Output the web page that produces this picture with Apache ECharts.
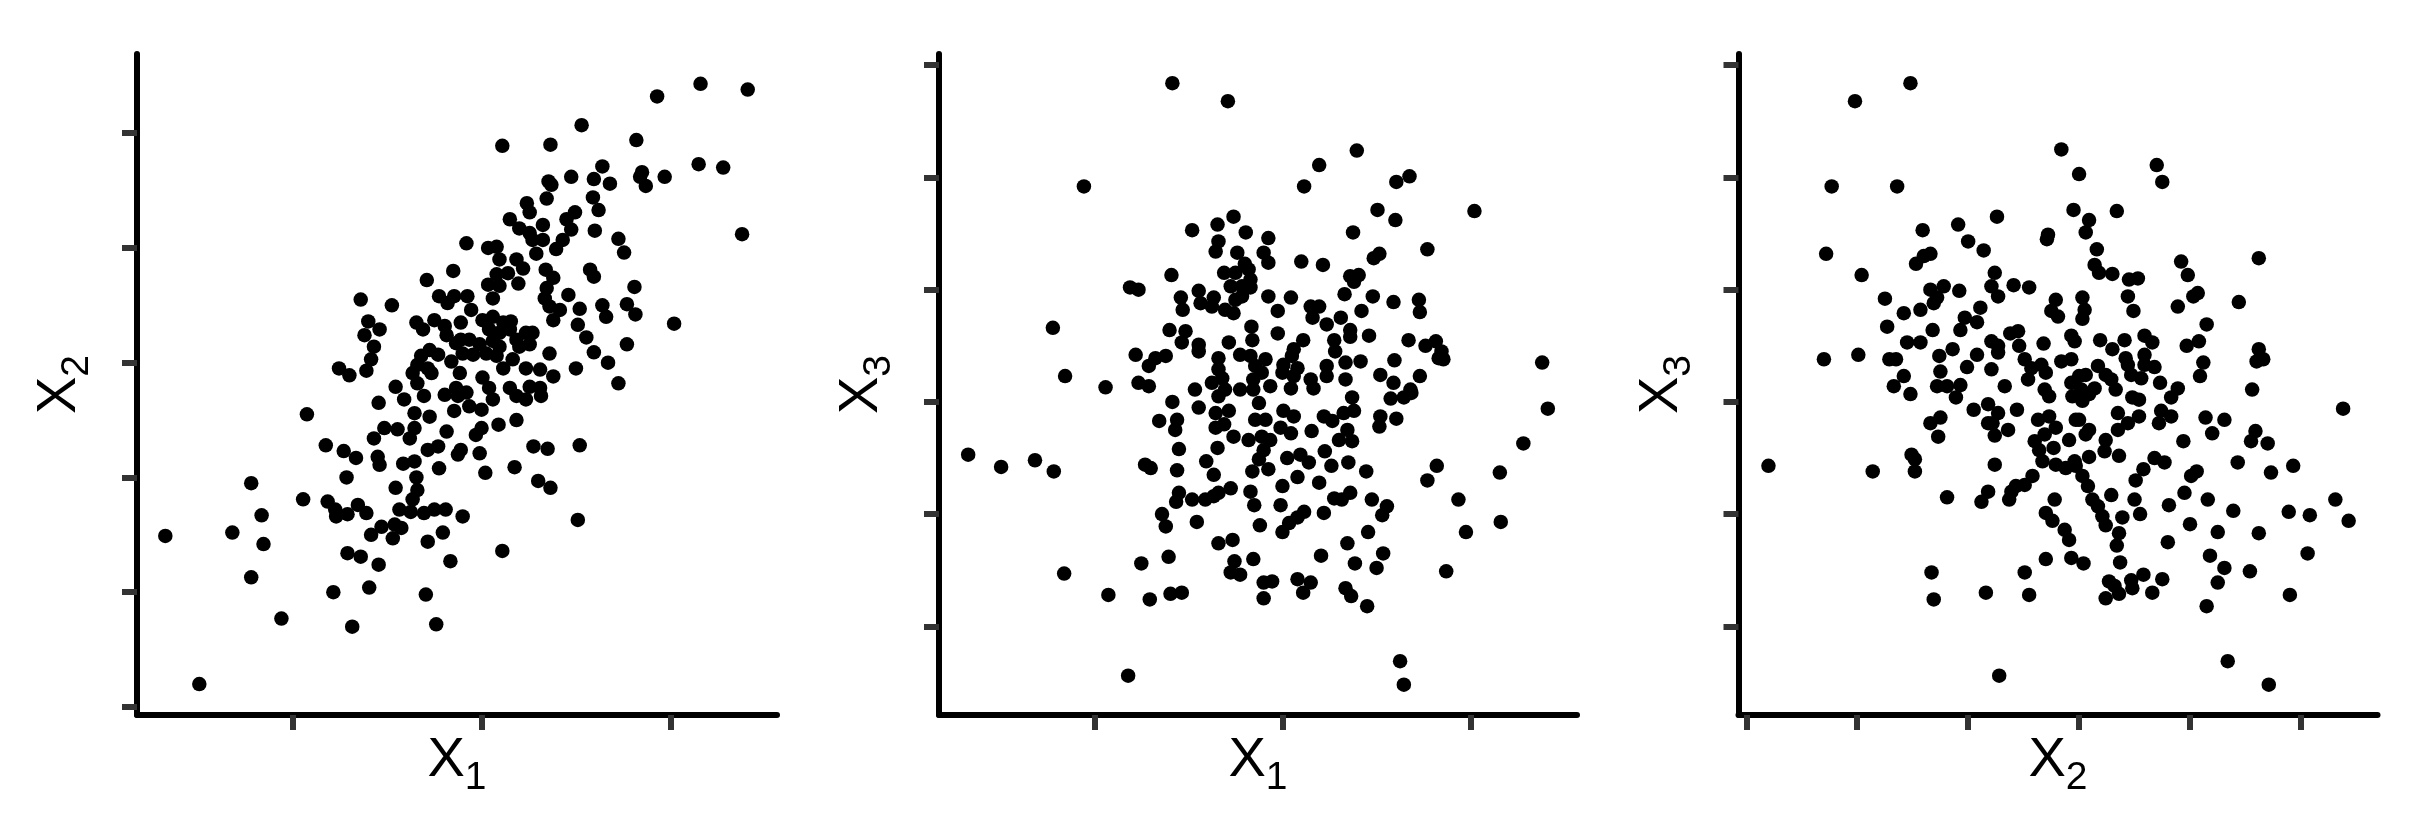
<!DOCTYPE html>
<html>
<head>
<meta charset="utf-8">
<script src="https://cdn.jsdelivr.net/npm/echarts@6/dist/echarts.min.js"></script>
<style>
html,body{margin:0;padding:0;background:#fff;}
#chart{width:2424px;height:830px;}
</style>
</head>
<body>
<div id="chart"></div>
<script>
// Tick positions (no tick labels shown in the reference)
const x1Ticks = [-2, 0, 2];
const x2Ticks = [-3, -2, -1, 0, 1, 2];
const x3Ticks = [-2, -1, 0, 1, 2, 3];
// Axis extents
const x1Range = [-3.65, 3.13];
const x2Range = [-3.07, 2.69];
const x3Range = [-2.79, 3.10];

// Panel 1: X1 (x) vs X2 (y)
const panel1 = [
[-0.16,1.04],[-0.30,0.80],[-0.58,0.72],[-1.28,0.55],[-0.95,0.50],[-0.45,0.58],[-0.29,0.58],[-0.36,0.52],[-0.15,0.58],[-1.20,0.36],[-1.08,0.29],[-1.24,0.24],[-1.14,0.14],[-1.17,0.03],[-1.22,-0.07],[-1.51,-0.05],[-1.40,-0.11],[-0.69,0.35],[-0.62,0.29],[-0.50,0.37],[-0.39,0.32],[-0.37,0.24],[-0.22,0.35],[-0.55,0.11],[-0.64,0.06],[-0.46,0.07],[-0.68,-0.02],[-0.57,-0.05],[-0.73,-0.09],[-0.53,-0.09],[-0.32,0.01],[-0.23,-0.09],[-0.22,0.20],[-0.20,0.08],[-0.91,-0.21],[-0.68,-0.18],
[2.32,2.43],[2.82,2.38],[1.86,2.32],[1.06,2.07],[0.22,1.89],[0.73,1.90],[1.64,1.94],[2.30,1.73],[2.56,1.70],[2.76,1.12],[2.04,0.34],[1.28,1.71],[0.95,1.62],[1.19,1.60],[1.36,1.56],[0.71,1.58],[0.74,1.55],[1.70,1.66],[1.68,1.62],[1.74,1.54],[1.94,1.62],[0.69,1.43],[0.48,1.39],[0.51,1.31],[1.18,1.44],[1.24,1.33],[0.30,1.25],[0.40,1.17],[0.51,1.13],[0.65,1.20],[0.99,1.31],[0.90,1.25],[0.95,1.16],[0.86,1.07],[0.65,1.07],[0.54,1.07],[0.79,0.99],[0.58,0.95],[1.20,1.15],[1.45,1.08],[1.51,0.96],[0.07,1.00],[0.16,1.01],[0.19,0.90],[0.37,0.90],[0.44,0.82],[0.16,0.77],[0.28,0.78],[0.39,0.69],[0.07,0.68],[0.19,0.67],[0.12,0.56],[-0.11,0.46],[0.68,0.81],[0.76,0.74],[0.69,0.65],[0.67,0.56],[0.72,0.49],[0.76,0.37],[0.92,0.59],[0.83,0.46],[1.04,0.47],[1.02,0.33],[1.11,0.22],[1.15,0.81],[1.19,0.75],[1.62,0.66],[1.28,0.50],[1.32,0.40],[1.54,0.51],[1.63,0.42],[1.54,0.16],[1.19,0.09],[1.34,0.00],[1.00,-0.05],[1.45,-0.18],
[0.01,0.37],[0.12,0.40],[0.23,0.35],[0.31,0.36],[0.08,0.29],[0.19,0.26],[0.30,0.29],[-0.27,0.17],[-0.13,0.20],[-0.02,0.16],[0.12,0.19],[0.19,0.14],[-0.09,0.07],[0.05,0.08],[0.16,0.06],[0.37,0.20],[0.47,0.26],[0.54,0.26],[0.40,0.14],[0.51,0.16],[0.01,-0.13],[0.23,-0.05],[0.33,0.03],[0.47,-0.05],[0.62,-0.06],[0.72,0.08],[0.76,-0.12],[0.08,-0.22],[0.30,-0.22],[0.51,-0.21],[0.62,-0.22],[-0.27,-0.22],
[-1.85,-0.45],[-1.65,-0.72],[-1.46,-0.77],[-1.33,-0.83],[-1.43,-1.00],[-2.44,-1.05],[-1.89,-1.19],[-2.33,-1.33],[-2.64,-1.48],[-2.31,-1.58],[-3.35,-1.51],[-2.44,-1.87],[-2.12,-2.23],[-1.57,-2.00],[-1.19,-1.96],[-1.37,-2.30],[-0.59,-2.02],[-0.48,-2.28],[-2.99,-2.80],[-1.09,-1.76],[-0.33,-1.73],[-1.42,-1.66],[-1.28,-1.69],[-0.57,-1.56],[-0.41,-1.48],[-1.17,-1.50],[-1.06,-1.43],[-0.92,-1.41],[-0.85,-1.44],[-0.94,-1.53],[-1.63,-1.21],[-1.55,-1.28],[-1.54,-1.34],[-1.42,-1.32],[-1.31,-1.24],[-1.22,-1.31],[-0.87,-1.28],[-0.75,-1.30],[-0.61,-1.31],[-0.50,-1.28],[-0.38,-1.28],[-0.20,-1.34],[-0.91,-1.09],[-0.69,-1.00],[-0.68,-1.11],[-0.73,-1.19],[-0.83,-0.88],[-0.71,-0.86],[-0.45,-0.92],[-1.08,-0.89],[-1.10,-0.82],[-1.14,-0.66],[-1.03,-0.57],[-0.89,-0.58],[-0.76,-0.66],[-0.71,-0.57],[-0.57,-0.76],[-0.46,-0.73],[-0.37,-0.60],[-0.25,-0.80],[-0.22,-0.76],[-1.09,-0.35],[-0.82,-0.32],[-0.71,-0.44],[-0.55,-0.47],[-0.61,-0.29],[-0.39,-0.28],[-0.25,-0.29],[-0.29,-0.42],
[0.12,-0.32],[0.37,-0.29],[0.63,-0.29],[0.47,-0.32],[-0.16,-0.26],[-0.13,-0.38],[-0.00,-0.41],[-0.00,-0.57],[-0.06,-0.63],[0.18,-0.54],[0.37,-0.50],[-0.02,-0.79],[0.55,-0.73],[0.70,-0.75],[1.04,-0.72],[0.04,-0.96],[0.35,-0.91],[0.60,-1.03],[0.73,-1.09],[1.02,-1.37],[0.22,-1.64]
];

// Panel 2: X1 (x) vs X3 (y)
const panel2 = [
[-1.17,2.84],[-0.58,2.68],[-2.11,1.92],[-0.52,1.65],[-0.69,1.58],[-0.96,1.53],[-0.39,1.51],[-0.15,1.46],[-0.68,1.43],[-0.71,1.34],[-0.48,1.33],[-0.40,1.23],[-0.20,1.33],[-0.15,1.24],[-1.18,1.13],[-0.62,1.15],[-0.50,1.15],[-0.36,1.18],[-0.34,1.09],[-0.55,1.03],[-0.43,1.03],[-0.34,1.02],[-0.15,0.94],[-1.62,1.02],[-1.53,1.00],[-0.89,0.99],[-0.87,0.88],[-0.73,0.93],[-0.75,0.85],[-0.61,0.82],[-0.52,0.79],[-1.08,0.93],[-1.06,0.82],[-0.50,0.91],[-0.43,0.94],[-2.44,0.66],[-1.20,0.64],[-1.03,0.63],[-1.07,0.53],[-0.89,0.51],[-0.89,0.45],[-0.57,0.53],[-0.33,0.67],[-0.32,0.55],[-1.56,0.42],[-1.42,0.32],[-1.35,0.39],[-1.24,0.41],[-0.68,0.39],[-0.68,0.29],[-0.64,0.21],[-0.45,0.42],[-0.34,0.41],[-0.29,0.32],[-0.22,0.26],[-0.31,0.20],[-0.18,0.38],[-2.31,0.23],[-1.88,0.13],[-1.53,0.17],[-1.42,0.14],[-0.75,0.17],[-0.93,0.11],[-0.61,0.11],[-0.45,0.11],
[0.79,2.24],[0.39,2.11],[0.23,1.92],[1.35,2.01],[1.21,1.96],[1.01,1.71],[1.20,1.62],[2.04,1.70],[0.75,1.51],[1.54,1.36],[0.97,1.28],[1.03,1.32],[0.20,1.25],[0.43,1.22],[0.72,1.12],[0.81,1.13],[0.76,1.07],[0.66,0.96],[0.09,0.93],[0.96,0.94],[1.18,0.89],[1.45,0.91],[1.46,0.80],[-0.05,0.81],[0.30,0.85],[0.39,0.85],[0.32,0.75],[0.47,0.69],[0.62,0.75],[0.84,0.81],[0.72,0.64],[0.72,0.58],[0.92,0.59],[-0.05,0.61],[0.22,0.55],[0.12,0.47],[0.10,0.41],[0.55,0.55],[0.56,0.45],[1.34,0.55],[1.52,0.50],[1.63,0.54],[1.69,0.45],[1.66,0.39],[1.71,0.38],[2.76,0.35],[1.19,0.37],[0.01,0.33],[0.16,0.30],[-0.00,0.26],[0.12,0.23],[0.47,0.32],[0.47,0.23],[0.67,0.35],[0.83,0.36],[0.67,0.20],[0.30,0.20],[1.04,0.24],[1.18,0.17],[1.46,0.23],[1.36,0.11],[0.09,0.12],[0.33,0.12],[-0.13,0.14],
[-3.34,-0.47],[-2.99,-0.58],[-2.63,-0.52],[-2.43,-0.62],[-1.46,-0.56],[-1.40,-0.59],[-1.17,-0.00],[-0.89,-0.05],[-1.31,-0.17],[-1.12,-0.16],[-1.14,-0.25],[-0.71,-0.10],[-0.57,-0.08],[-0.71,-0.23],[-0.62,-0.20],[-0.68,0.05],[-0.31,0.11],[-0.25,-0.01],[-0.18,-0.16],[-0.29,-0.16],[-0.52,-0.31],[-0.36,-0.34],[-0.22,-0.31],[-0.20,-0.43],[-0.25,-0.51],[-1.10,-0.42],[-0.69,-0.41],[-0.81,-0.53],[-1.12,-0.61],[-0.73,-0.65],[-0.32,-0.62],[-0.15,-0.60],[-1.10,-0.81],[-1.13,-0.89],[-0.96,-0.87],[-0.82,-0.87],[-0.73,-0.84],[-0.68,-0.81],[-0.55,-0.77],[-0.34,-0.80],[-0.30,-0.92],[-1.28,-1.00],[-1.24,-1.11],[-0.91,-1.07],[-0.24,-1.10],[-0.68,-1.26],[-0.53,-1.23],[-1.50,-1.44],[-1.21,-1.38],[-0.51,-1.42],[-0.55,-1.52],[-0.45,-1.54],[-0.31,-1.40],[-0.20,-1.61],[-0.20,-1.75],[-2.32,-1.53],[-1.85,-1.72],[-1.41,-1.76],[-1.19,-1.71],[-1.07,-1.70],[-1.64,-2.44],
[2.82,-0.06],[2.56,-0.37],[2.31,-0.63],[1.64,-0.57],[1.54,-0.70],[1.87,-0.87],[1.95,-1.16],[2.32,-1.07],[1.74,-1.51],[1.25,-2.31],[1.29,-2.52],[1.15,0.03],[1.29,0.04],[1.37,0.08],[1.04,-0.13],[1.03,-0.22],[1.21,-0.15],[0.74,0.04],[0.76,-0.08],[0.65,-0.10],[0.44,-0.13],[0.53,-0.17],[0.69,-0.25],[0.60,-0.34],[0.74,-0.35],[0.31,-0.26],[0.45,-0.44],[0.52,-0.57],[0.70,-0.54],[0.89,-0.62],[0.01,-0.08],[0.12,-0.13],[0.09,-0.28],[-0.02,-0.23],[-0.13,-0.34],[0.05,-0.50],[0.19,-0.47],[0.28,-0.54],[0.16,-0.67],[0.39,-0.72],[-0.00,-0.75],[0.55,-0.86],[0.63,-0.87],[0.72,-0.81],[0.95,-0.87],[1.11,-0.93],[1.06,-1.01],[-0.02,-0.92],[0.23,-0.98],[0.16,-1.03],[0.07,-1.08],[-0.00,-1.16],[0.44,-0.99],[0.69,-1.26],[0.91,-1.16],[1.07,-1.35],[0.77,-1.44],[1.00,-1.48],[0.41,-1.37],[-0.11,-1.60],[0.16,-1.58],[0.30,-1.61],[0.22,-1.70],[0.67,-1.66],[0.73,-1.73],[0.90,-1.82]
];

// Panel 3: X2 (x) vs X3 (y)
const panel3 = [
[-1.52,2.84],[-2.02,2.68],[-0.16,2.25],[-2.23,1.92],[-1.64,1.92],[-0.74,1.65],[-1.09,1.58],[-1.41,1.53],[-0.28,1.49],[-0.29,1.45],[-1.00,1.43],[-0.86,1.35],[-2.28,1.32],[-1.34,1.32],[-1.40,1.30],[-1.47,1.23],[-1.96,1.13],[-0.76,1.15],[-0.79,1.03],[-0.73,0.94],[-0.59,1.04],[-0.45,1.02],[-1.34,1.00],[-1.22,1.03],[-1.31,0.88],[-1.28,0.93],[-1.08,0.99],[-1.75,0.92],[-1.43,0.82],[-1.58,0.79],[-0.89,0.84],[-0.92,0.71],[-1.03,0.75],[-1.07,0.64],[-0.21,0.91],[-0.25,0.81],[-0.19,0.76],[-1.73,0.67],[-1.32,0.64],[-0.62,0.61],[-0.55,0.63],[-0.54,0.50],[-1.55,0.53],[-1.43,0.53],[-1.14,0.47],[-0.79,0.54],[-0.73,0.50],[-0.73,0.44],[-0.79,0.29],[-0.32,0.52],[-0.07,0.59],[-2.30,0.38],[-1.99,0.42],[-1.71,0.38],[-1.65,0.38],[-1.26,0.41],[-1.25,0.27],[-1.01,0.31],[-0.92,0.42],[-0.49,0.38],[-0.43,0.30],[-0.34,0.33],[-0.30,0.26],[-0.46,0.20],[-0.16,0.36],[-0.07,0.38],[-1.58,0.23],[-1.67,0.14],[-1.28,0.14],[-1.19,0.14],[-1.07,0.15],[-0.67,0.14],[-0.31,0.11],[-0.07,0.17],
[0.00,2.03],[0.70,2.11],[0.75,1.96],[-0.05,1.71],[0.34,1.70],[0.09,1.62],[0.06,1.51],[0.16,1.36],[0.14,1.22],[0.18,1.15],[0.30,1.14],[0.45,1.09],[0.53,1.10],[0.92,1.25],[0.98,1.13],[1.62,1.28],[1.07,0.97],[1.03,0.94],[0.44,0.94],[0.49,0.81],[0.03,0.93],[0.05,0.82],[0.03,0.74],[0.89,0.85],[1.44,0.89],[1.15,0.69],[-0.04,0.54],[0.19,0.55],[0.30,0.47],[0.41,0.55],[0.59,0.59],[0.66,0.53],[0.97,0.50],[1.08,0.54],[1.62,0.47],[1.66,0.38],[1.60,0.36],[0.42,0.39],[0.59,0.42],[0.44,0.33],[0.68,0.31],[0.59,0.33],[1.12,0.35],[1.09,0.23],[0.17,0.32],[0.06,0.24],[0.00,0.23],[0.24,0.24],[0.29,0.20],[0.47,0.24],[0.56,0.21],[0.73,0.17],[0.89,0.12],[1.56,0.11],[0.33,0.11],[0.14,0.12],
[-2.80,-0.57],[-1.86,-0.62],[-1.51,-0.47],[-1.48,-0.51],[-1.48,-0.62],[-1.19,-0.85],[-0.76,-0.56],[-0.82,-0.80],[-0.88,-0.89],[-0.61,-0.80],[-0.57,-0.75],[-0.49,-0.74],[-0.42,-0.66],[-0.63,-0.87],[-0.22,-0.87],[-0.30,-0.99],[-0.24,-1.06],[-0.13,-1.14],[-0.09,-1.23],[-0.07,-1.39],[-0.30,-1.40],[-0.49,-1.52],[-0.45,-1.72],[-0.84,-1.70],[-1.33,-1.52],[-1.31,-1.76],[-0.72,-2.44],[-1.52,0.07],[-1.11,0.04],[-0.95,-0.07],[-0.82,-0.02],[-0.73,-0.10],[-0.78,-0.19],[-0.82,-0.19],[-0.64,-0.25],[-0.76,-0.30],[-0.56,-0.07],[-1.34,-0.19],[-1.25,-0.14],[-1.27,-0.31],[-0.27,0.05],[-0.37,-0.16],[-0.27,-0.13],[-0.21,-0.23],[-0.40,-0.35],[-0.31,-0.29],[-0.36,-0.43],[-0.23,-0.41],[-0.06,0.05],[-0.03,-0.16],[-0.09,-0.34],[-0.33,-0.53],[-0.21,-0.56],[-0.12,-0.59],[-0.04,-0.53],
[2.38,-0.06],[1.14,-0.14],[1.31,-0.16],[1.20,-0.28],[1.59,-0.26],[1.55,-0.35],[1.70,-0.37],[0.94,-0.35],[1.43,-0.54],[1.73,-0.63],[1.93,-0.57],[2.31,-0.87],[2.43,-1.06],[2.08,-1.01],[1.89,-0.98],[2.06,-1.35],[1.62,-1.17],[1.90,-1.72],[1.54,-1.51],[1.39,-0.97],[1.25,-1.16],[1.18,-1.37],[1.31,-1.48],[1.25,-1.61],[1.15,-1.82],[1.34,-2.31],[1.71,-2.52],[1.16,-0.87],[1.00,-1.09],[0.95,-0.81],[1.01,-0.66],[1.06,-0.62],[0.81,-0.92],[0.80,-1.25],[0.68,-0.50],[0.77,-0.54],[0.58,-0.60],[0.51,-0.70],[0.83,0.04],[0.74,-0.08],[0.72,-0.19],[0.83,-0.13],[0.54,-0.13],[0.44,-0.19],[0.35,-0.10],[0.48,0.04],[0.54,0.02],[0.35,-0.25],[0.24,-0.34],[0.23,-0.44],[0.36,-0.48],[0.50,-0.87],[0.55,-1.00],[0.39,-1.03],[0.29,-0.83],[0.36,-1.17],[0.34,-1.28],[0.37,-1.43],[0.27,-1.60],[0.32,-1.64],[0.24,-1.75],[0.36,-1.71],[0.47,-1.59],[0.58,-1.54],[0.48,-1.66],[0.66,-1.70],[0.75,-1.58],[0.12,-0.87],[0.17,-0.93],[0.21,-1.02],[0.24,-1.10],[0.03,-0.66],[0.08,-0.75],[-0.03,-0.57],[0.09,-0.49],[0.04,-1.44],[0.00,-0.16],[0.09,-0.25],[0.06,-0.29],[0.02,0.11],[0.09,0.07],[0.03,0.01]
];

// Axis titles: variable letter + subscript index
const xTitles = ['1', '1', '2'];
const yTitles = ['2', '3', '3'];

const FONT = 'Liberation Sans, Arial, Helvetica, sans-serif';
const richTitle = {
  b: { fontSize: 56, fontFamily: FONT, color: '#000', lineHeight: 64, verticalAlign: 'top' },
  s: { fontSize: 39, fontFamily: FONT, color: '#000', lineHeight: 39, padding: [26, 0, 0, 0], verticalAlign: 'top' }
};

const grids = [
  { left: 137, top: 54, width: 640, height: 661 },
  { left: 939, top: 54, width: 638, height: 661 },
  { left: 1738.5, top: 54, width: 639, height: 661 }
];

const xSpecs = [
  { range: x1Range, ticks: x1Ticks },
  { range: x1Range, ticks: x1Ticks },
  { range: x2Range, ticks: x2Ticks }
];
const ySpecs = [
  { range: x2Range, ticks: x2Ticks },
  { range: x3Range, ticks: x3Ticks },
  { range: x3Range, ticks: x3Ticks }
];
const panels = [panel1, panel2, panel3];

function axisCommon(spec) {
  return {
    type: 'value',
    min: spec.range[0],
    max: spec.range[1],
    axisLine: { show: true, onZero: false, lineStyle: { color: '#000', width: 6 } },
    axisTick: { show: true, customValues: spec.ticks, length: 15, lineStyle: { color: '#333', width: 6 } },
    axisLabel: { show: false },
    splitLine: { show: false },
    nameLocation: 'middle',
    nameTextStyle: { rich: richTitle }
  };
}

const option = {
  animation: false,
  backgroundColor: '#fff',
  grid: grids.map(g => Object.assign({ containLabel: false }, g)),
  xAxis: xSpecs.map((s, i) => Object.assign(axisCommon(s), {
    gridIndex: i,
    name: '{b|X}{s|' + xTitles[i] + '}',
    nameGap: 18
  })),
  yAxis: ySpecs.map((s, i) => Object.assign(axisCommon(s), {
    gridIndex: i,
    name: '{b|X}{s|' + yTitles[i] + '}',
    nameGap: 41
  })),
  series: panels.map((d, i) => ({
    type: 'scatter',
    xAxisIndex: i,
    yAxisIndex: i,
    data: d,
    symbol: 'circle',
    symbolSize: 14.5,
    itemStyle: { color: '#000', opacity: 1 },
    silent: true
  }))
};

const chart = echarts.init(document.getElementById('chart'), null, { renderer: 'canvas' });
chart.setOption(option);
</script>
</body>
</html>
